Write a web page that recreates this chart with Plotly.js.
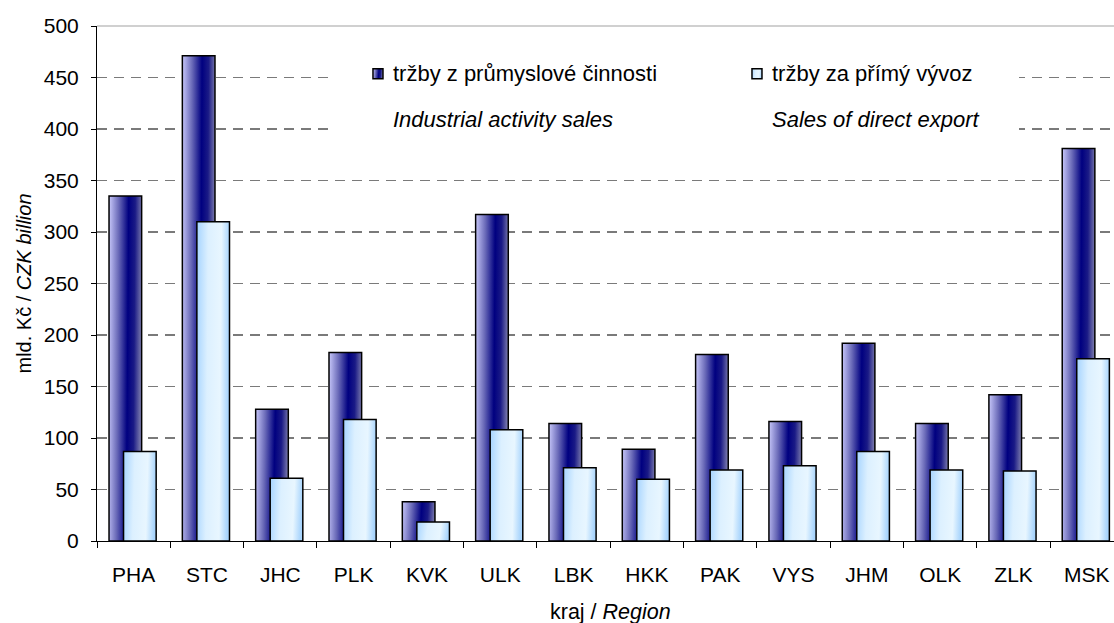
<!DOCTYPE html>
<html>
<head>
<meta charset="utf-8">
<script src="https://cdn.plot.ly/plotly-3.0.1.min.js"></script>
<style>html,body{margin:0;padding:0;background:#fff;}#chart{width:1114px;height:623px;}</style>
</head>
<body>
<div id="chart"></div>
<script>
const regions = ['PHA','STC','JHC','PLK','KVK','ULK','LBK','HKK','PAK','VYS','JHM','OLK','ZLK','MSK'];
const industrialSales = [335, 471, 128, 183, 38, 317, 114, 89, 181, 116, 192, 114, 142, 381];
const exportSales = [87, 310, 61, 118, 18.5, 108, 71, 60, 69, 73, 87, 69, 68, 177];
const seriesCz = ['tržby z průmyslové činnosti', 'tržby za přímý vývoz'];
const seriesEn = ['Industrial activity sales', 'Sales of direct export'];
const yTicks = [0,50,100,150,200,250,300,350,400,450,500];

const FONT = 'Liberation Sans, Arial, sans-serif';
const legendName = i => '<span style="font-size:22px">' + seriesCz[i] + '</span><br><br>' +
  '<span style="font-size:22px"><i>' + seriesEn[i] + '</i></span>';

const data = [
  {type:'bar', x:regions, y:industrialSales, name:legendName(0),
   width:0.445, offset:-0.336,
   marker:{color:'#1a1a8a', line:{color:'#000', width:1.5}}},
  {type:'bar', x:regions, y:exportSales, name:legendName(1),
   width:0.445, offset:-0.138,
   marker:{color:'#d8eeff', line:{color:'#000', width:1.5}}}
];

const layout = {
  width:1114, height:623,
  margin:{l:97, r:0, t:26, b:82},
  paper_bgcolor:'#fff', plot_bgcolor:'#fff',
  barmode:'overlay',
  font:{family:FONT, size:21, color:'#000'},
  showlegend:true,
  legend:{orientation:'h', x:0.2517, y:0.942, xanchor:'left', yanchor:'top',
    bgcolor:'rgba(0,0,0,0)', borderwidth:0, valign:'top', entrywidth:334,
    font:{family:FONT, size:17.7, color:'#000'}, traceorder:'normal'},
  xaxis:{type:'category', range:[-0.5, 13.37], showline:true, linecolor:'#000', linewidth:1,
    ticks:'outside', ticklen:6, tickcolor:'#000', tickson:'boundaries',
    showgrid:false, ticklabelstandoff:15, tickfont:{family:FONT, size:21}},
  yaxis:{range:[0,500], tickvals:yTicks, ticktext:yTicks.map(String),
    showline:true, linecolor:'#000', linewidth:1,
    ticks:'outside', ticklen:5, tickcolor:'#000', ticklabelstandoff:8,
    showgrid:true, gridcolor:'#7a7a7a', gridwidth:1.3, griddash:'10px,7px',
    zeroline:false, tickfont:{family:FONT, size:21},
    title:{text:'mld. Kč / <i>CZK billion</i>', font:{family:FONT, size:20}, standoff:6}},
  yaxis2:{overlaying:'y', side:'left', range:[0,500], tickvals:yTicks, showticklabels:false,
    ticks:'inside', ticklen:6, tickcolor:'#000', showgrid:false, zeroline:false, showline:false},
  shapes:[
    {type:'rect', layer:'above', xref:'paper', yref:'paper', x0:0.2291, x1:0.9066, y0:0.7864, y1:0.9534,
     fillcolor:'#fff', line:{width:0}},
    {type:'line', xref:'paper', yref:'paper', x0:0, x1:1, y0:1, y1:1,
     line:{color:'#c0c0c0', width:1.5}}],
  annotations:[{xref:'paper', yref:'paper', x:0.505, y:-0.1369, xanchor:'center', yanchor:'middle',
    showarrow:false, text:'kraj / <i>Region</i>', font:{family:FONT, size:21.5}}]
};

Plotly.newPlot('chart', data, layout, {staticPlot:true, displayModeBar:false}).then(gd => {
  const ns = 'http://www.w3.org/2000/svg';
  const svg = gd.querySelector('svg.main-svg');
  let defs = svg.querySelector('defs');
  if (!defs) { defs = document.createElementNS(ns,'defs'); svg.insertBefore(defs, svg.firstChild); }
  function grad(id, stops) {
    const g = document.createElementNS(ns,'linearGradient');
    g.setAttribute('id', id);
    g.setAttribute('x1','0'); g.setAttribute('y1','0');
    g.setAttribute('x2','1'); g.setAttribute('y2','0.08');
    stops.forEach(([o,c]) => {
      const s = document.createElementNS(ns,'stop');
      s.setAttribute('offset', o); s.setAttribute('stop-color', c);
      g.appendChild(s);
    });
    defs.appendChild(g);
  }
  grad('gradDark', [[0,'#c8c8fa'],[0.3,'#6a6ab8'],[0.6,'#000080'],[0.8,'#1a1a86'],[1,'#7474aa']]);
  grad('gradLight', [[0,'#a6d4ff'],[0.35,'#dcf0ff'],[0.75,'#e8f6ff'],[1,'#a8d4fc']]);
  const ids = ['gradDark','gradLight'];
  gd.querySelectorAll('g.barlayer g.trace.bars').forEach((t,i) => {
    t.querySelectorAll('path').forEach(p => { p.style.fill = 'url(#' + ids[i] + ')'; });
  });
  gd.querySelectorAll('g.legend g.traces').forEach((t,i) => {
    t.querySelectorAll('.legendpoints path').forEach(p => {
      p.setAttribute('d', 'M10,5H0V-5H10Z');
      p.style.fill = 'url(#' + ids[i] + ')';
      p.style.stroke = '#000';
      p.style.strokeWidth = '1.5px';
    });
  });
});
</script>
</body>
</html>
